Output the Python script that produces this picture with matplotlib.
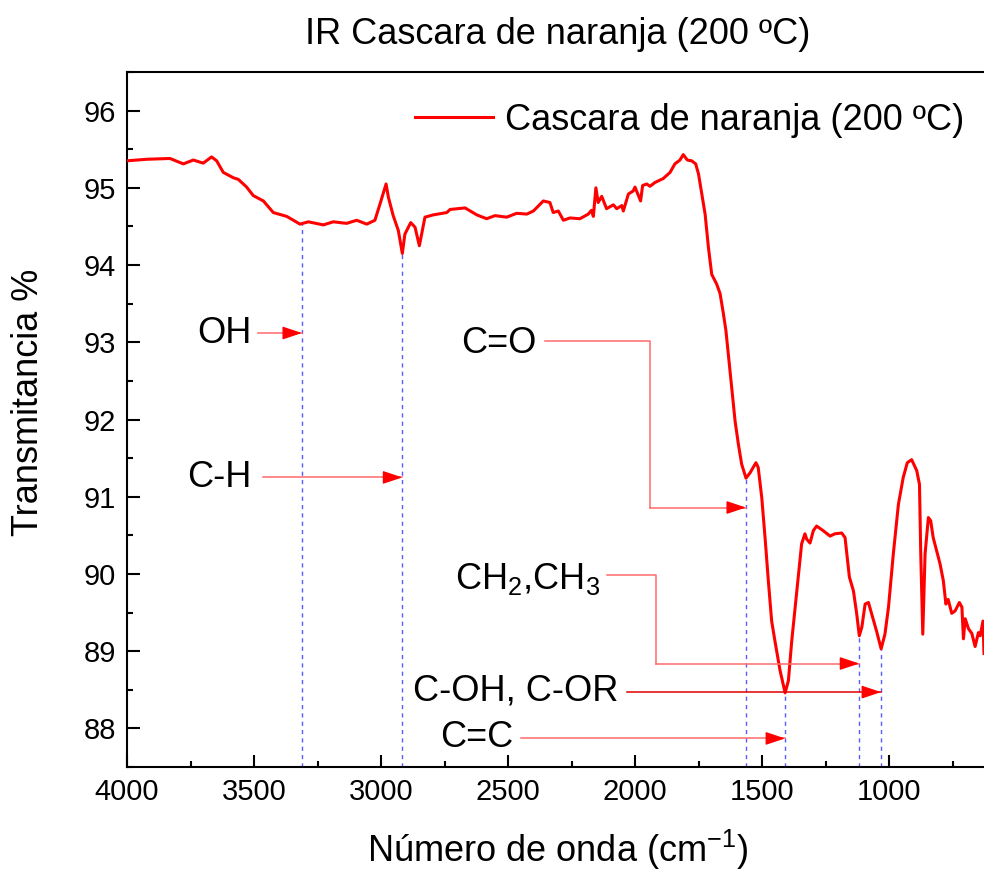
import matplotlib
matplotlib.use("Agg")
import matplotlib.pyplot as plt
from matplotlib.ticker import MultipleLocator

plt.rcParams['font.family'] = ['Liberation Sans', 'DejaVu Sans']
plt.rcParams['mathtext.fontset'] = 'custom'
plt.rcParams['mathtext.rm'] = 'Liberation Sans'
plt.rcParams['mathtext.it'] = 'Liberation Sans:italic'

# ---------------- data ----------------
wavenumber = [4000, 3922, 3831, 3778, 3739, 3700, 3667, 3647, 3621, 3581, 3562, 3529, 3503,
              3463, 3424, 3371, 3319, 3286, 3227, 3188, 3135, 3096, 3056, 3024, 3004, 2980,
              2971, 2952, 2932, 2916, 2906, 2883, 2866, 2849, 2827, 2794, 2741, 2728, 2669,
              2623, 2584, 2551, 2505, 2466, 2426, 2400, 2361, 2335, 2322, 2302, 2282, 2256,
              2217, 2184, 2171, 2164, 2154, 2145, 2131, 2112, 2085, 2072, 2052, 2046, 2026,
              2007, 2000, 1978, 1970, 1954, 1941, 1921, 1889, 1862, 1843, 1823, 1810, 1794,
              1777, 1761, 1750, 1737, 1724, 1711, 1698, 1678, 1665, 1652, 1642, 1606, 1593,
              1580, 1563, 1547, 1524, 1515, 1501, 1488, 1475, 1462, 1449, 1429, 1409, 1396,
              1383, 1364, 1344, 1331, 1324, 1311, 1298, 1285, 1259, 1232, 1213, 1186, 1173,
              1156, 1140, 1127, 1117, 1107, 1094, 1081, 1068, 1049, 1031, 1016, 1002, 983,
              963, 944, 928, 911, 891, 880, 875, 867, 858, 845, 836, 826, 799, 786, 776, 767,
              753, 740, 723, 713, 707, 700, 687, 674, 661, 648, 641, 630, 626]
transmittance = [95.35, 95.37, 95.38, 95.31, 95.36, 95.32, 95.40, 95.35, 95.20, 95.13, 95.11,
                 95.01, 94.90, 94.83, 94.68, 94.63, 94.53, 94.56, 94.52, 94.56, 94.54, 94.58,
                 94.53, 94.58, 94.79, 95.05, 94.88, 94.64, 94.45, 94.15, 94.40, 94.55, 94.49,
                 94.25, 94.62, 94.65, 94.68, 94.72, 94.74, 94.65, 94.60, 94.64, 94.62, 94.67,
                 94.66, 94.70, 94.83, 94.81, 94.68, 94.70, 94.58, 94.61, 94.60, 94.66, 94.71,
                 94.63, 95.00, 94.81, 94.89, 94.73, 94.78, 94.73, 94.77, 94.70, 94.92, 94.96,
                 95.01, 94.83, 95.03, 95.05, 95.02, 95.07, 95.12, 95.20, 95.31, 95.36, 95.43,
                 95.36, 95.35, 95.31, 95.18, 94.92, 94.66, 94.23, 93.88, 93.75, 93.63, 93.37,
                 93.15, 91.98, 91.68, 91.42, 91.24, 91.31, 91.44, 91.38, 90.99, 90.47, 89.91,
                 89.39, 89.13, 88.75, 88.46, 88.62, 89.13, 89.74, 90.39, 90.52, 90.45, 90.40,
                 90.56, 90.62, 90.56, 90.49, 90.52, 90.53, 90.47, 89.96, 89.78, 89.48, 89.20,
                 89.31, 89.61, 89.63, 89.48, 89.26, 89.03, 89.22, 89.57, 90.26, 90.90, 91.25,
                 91.44, 91.48, 91.34, 91.16, 90.26, 89.22, 90.26, 90.73, 90.69, 90.47, 90.13,
                 89.91, 89.61, 89.67, 89.49, 89.52, 89.63, 89.57, 89.16, 89.42, 89.29, 89.23,
                 89.06, 89.24, 89.20, 89.39, 88.97]

# marked bands: wavenumber of the band and transmittance at the band
band_wn = [3311, 2916, 1563, 1409, 1117, 1031]
band_T = [94.53, 94.15, 91.24, 88.46, 89.20, 89.03]
band_labels = ['OH', 'C-H', 'C=O', 'C=C', r'CH$_\mathregular{2}$,CH$_\mathregular{3}$', 'C-OH, C-OR']

x_ticks = [4000, 3500, 3000, 2500, 2000, 1500, 1000]
y_ticks = [88, 89, 90, 91, 92, 93, 94, 95, 96]

# ---------------- figure ----------------
fig = plt.figure(figsize=(9.84, 8.71), dpi=100)
ax = fig.add_axes([127/984, 1-767/871, (984-127)/984, (767-72)/871])

ax.set_xlim(4000, 626)
ax.set_ylim(87.5, 96.5)

ymin = 87.5
for wn, t in zip(band_wn, band_T):
    ax.vlines(wn, ymin, t, colors='#5a5aff', linestyles=(0, (3, 3)), linewidth=1.0, zorder=2)

ax.plot(wavenumber, transmittance, color='red', lw=2.2, label='Cascara de naranja (200 ºC)', zorder=3)

ax.xaxis.set_minor_locator(MultipleLocator(250))
ax.yaxis.set_minor_locator(MultipleLocator(0.5))
ax.set_xticks(x_ticks)
ax.set_yticks(y_ticks)
ax.tick_params(which='both', direction='in', width=1.5, labelsize=21, top=False, right=False)
ax.tick_params(which='major', length=9, pad=8)
ax.tick_params(which='minor', length=4.5)
for s in ['left', 'bottom', 'top']:
    ax.spines[s].set_linewidth(1.5)
ax.spines['right'].set_visible(False)

fs = 26
ax.set_xlabel('Número de onda (cm$^{\\mathregular{-1}}$)', fontsize=fs)
ax.set_ylabel('Transmitancia %', fontsize=fs)
ax.xaxis.set_label_coords(0.503, -0.088)
ax.yaxis.set_label_coords(-0.094, 0.525)

fig.text(558/984, 1-35/871, 'IR Cascara de naranja (200 ºC)', ha='center', va='center', fontsize=fs)

ax.legend(loc='center left', bbox_to_anchor=(415/984, 1-120/871), bbox_transform=fig.transFigure,
          frameon=False, fontsize=fs, handlelength=2.15, handletextpad=0.33, borderpad=0,
          borderaxespad=0)

line_c = '#ff6b6b'
head_c = 'red'


def arrow(x0, x1, y, lc=line_c):
    ax.plot([x0, x1], [y, y], color=lc, lw=1.1, zorder=4)
    ax.annotate('', xy=(x1, y), xytext=(x1 + 68, y),
                arrowprops=dict(arrowstyle='-|>,head_length=0.6,head_width=0.2', color=head_c,
                                lw=1.0, shrinkA=0, shrinkB=0, mutation_scale=20), zorder=5)


# OH
ax.text(3508, 93.12, band_labels[0], ha='right', va='center', fontsize=fs)
arrow(3484, band_wn[0], 93.12)
# C-H
ax.text(3508, 91.25, band_labels[1], ha='right', va='center', fontsize=fs)
arrow(3465, band_wn[1], 91.25)
# C=O
ax.text(2386, 92.98, band_labels[2], ha='right', va='center', fontsize=fs)
ax.plot([2354, 1941, 1941], [93.02, 93.02, 90.86], color=line_c, lw=1.1, zorder=4)
arrow(1941, band_wn[2], 90.86)
# CH2, CH3
ax.text(2138, 89.93, band_labels[4], ha='right', va='center', fontsize=fs)
ax.plot([2110, 1917, 1917], [89.99, 89.99, 88.84], color=line_c, lw=1.1, zorder=4)
arrow(1917, band_wn[4], 88.84)
# C-OH, C-OR
ax.text(2067, 88.49, band_labels[5], ha='right', va='center', fontsize=fs)
arrow(2031, band_wn[5], 88.47, lc='#e00000')
# C=C
ax.text(2480, 87.88, band_labels[3], ha='right', va='center', fontsize=fs)
arrow(2449, band_wn[3], 87.87)

fig.savefig('out.png', dpi=100)
